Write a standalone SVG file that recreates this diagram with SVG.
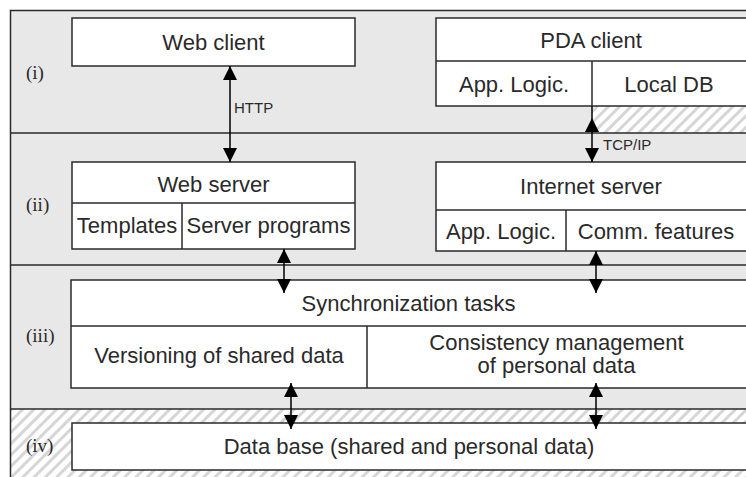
<svg xmlns="http://www.w3.org/2000/svg" width="746" height="477" viewBox="0 0 746 477">
  <style>
    .sec { fill: #e8e8e8; stroke: none; }
    .hatch { fill: url(#hatch); stroke: none; }
    .frame { fill: none; stroke: #2a2a2a; stroke-width: 1.5; }
    .box { fill: #ffffff; stroke: #2a2a2a; stroke-width: 1.5; }
    .ln { stroke: #2a2a2a; stroke-width: 1.5; fill: none; }
    .con { stroke: #000000; stroke-width: 1.5; fill: none; marker-start: url(#ah); marker-end: url(#ah); }
    .t { font-family: "Liberation Sans", Arial, sans-serif; font-size: 22px; fill: #2a2a2a; text-anchor: middle; }
    .s { font-family: "Liberation Sans", Arial, sans-serif; font-size: 15px; fill: #2a2a2a; }
    .lbl { font-family: "Liberation Serif", "Times New Roman", serif; font-size: 19px; fill: #2a2a2a; }
  </style>
  <defs>
    <pattern id="hatch" width="8" height="8" patternUnits="userSpaceOnUse" patternTransform="rotate(45)">
      <rect width="8" height="8" fill="#ffffff"/>
      <rect x="0" y="0" width="3" height="8" fill="#d6d6d6"/>
    </pattern>
    <marker id="ah" viewBox="0 0 14 14" markerWidth="14" markerHeight="14" refX="14" refY="7" markerUnits="userSpaceOnUse" orient="auto-start-reverse">
      <path d="M0,0 L14,7 L0,14 z" fill="#000000"/>
    </marker>
  </defs>

  <g id="layers">
    <rect class="sec" x="10" y="10" width="740" height="123"/>
    <rect class="hatch" x="592" y="106" width="156" height="27"/>
    <rect class="sec" x="10" y="133" width="740" height="132"/>
    <rect class="sec" x="10" y="265" width="740" height="144"/>
    <rect class="hatch" x="10" y="409" width="740" height="70"/>
    <rect class="frame" x="10.5" y="10.5" width="745" height="475"/>
    <line class="ln" x1="10" y1="133" x2="748" y2="133"/>
    <line class="ln" x1="10" y1="265" x2="748" y2="265"/>
    <line class="ln" x1="10" y1="409" x2="748" y2="409"/>
    <text class="lbl" x="26" y="79">(i)</text>
    <text class="lbl" x="26" y="211">(ii)</text>
    <text class="lbl" x="26" y="342">(iii)</text>
    <text class="lbl" x="26" y="452">(iv)</text>
  </g>

  <g id="web-client">
    <rect class="box" x="72" y="18" width="283" height="48"/>
    <text class="t" x="213.5" y="50">Web client</text>
  </g>

  <g id="pda-client">
    <rect class="box" x="436" y="18" width="312" height="88"/>
    <line class="ln" x1="436" y1="61" x2="748" y2="61"/>
    <line class="ln" x1="592" y1="61" x2="592" y2="106"/>
    <text class="t" x="591" y="48">PDA client</text>
    <text class="t" x="514" y="92">App. Logic.</text>
    <text class="t" x="669" y="92">Local DB</text>
  </g>

  <g id="web-server">
    <rect class="box" x="72" y="162" width="283" height="87"/>
    <line class="ln" x1="72" y1="203" x2="355" y2="203"/>
    <line class="ln" x1="182" y1="203" x2="182" y2="249"/>
    <text class="t" x="213.5" y="192">Web server</text>
    <text class="t" x="127" y="233">Templates</text>
    <text class="t" x="268.5" y="233">Server programs</text>
  </g>

  <g id="internet-server">
    <rect class="box" x="436" y="162" width="312" height="89"/>
    <line class="ln" x1="436" y1="210" x2="748" y2="210"/>
    <line class="ln" x1="566" y1="210" x2="566" y2="251"/>
    <text class="t" x="591" y="194">Internet server</text>
    <text class="t" x="501" y="239">App. Logic.</text>
    <text class="t" x="656" y="239">Comm. features</text>
  </g>

  <g id="sync-tasks">
    <rect class="box" x="71" y="280" width="677" height="108"/>
    <line class="ln" x1="71" y1="326" x2="748" y2="326"/>
    <line class="ln" x1="367" y1="326" x2="367" y2="388"/>
    <text class="t" x="408.5" y="311">Synchronization tasks</text>
    <text class="t" x="219" y="363">Versioning of shared data</text>
    <text class="t" x="556.5" y="350">Consistency management</text>
    <text class="t" x="556.5" y="373">of personal data</text>
  </g>

  <g id="database">
    <rect class="box" x="72" y="423" width="676" height="47"/>
    <text class="t" x="409" y="454">Data base (shared and personal data)</text>
  </g>

  <g id="connectors">
    <path class="con" d="M230,66 L230,162"/>
    <text class="s" x="234" y="113">HTTP</text>
    <line class="ln" x1="592" y1="106" x2="592" y2="118" style="stroke:#000"/>
    <path class="con" d="M592,118 L592,162"/>
    <text class="s" x="603" y="150">TCP/IP</text>
    <path class="con" d="M284,249 L284,293"/>
    <path class="con" d="M596,251 L596,293"/>
    <path class="con" d="M291,383 L291,429"/>
    <path class="con" d="M596,383 L596,429"/>
  </g>
</svg>
